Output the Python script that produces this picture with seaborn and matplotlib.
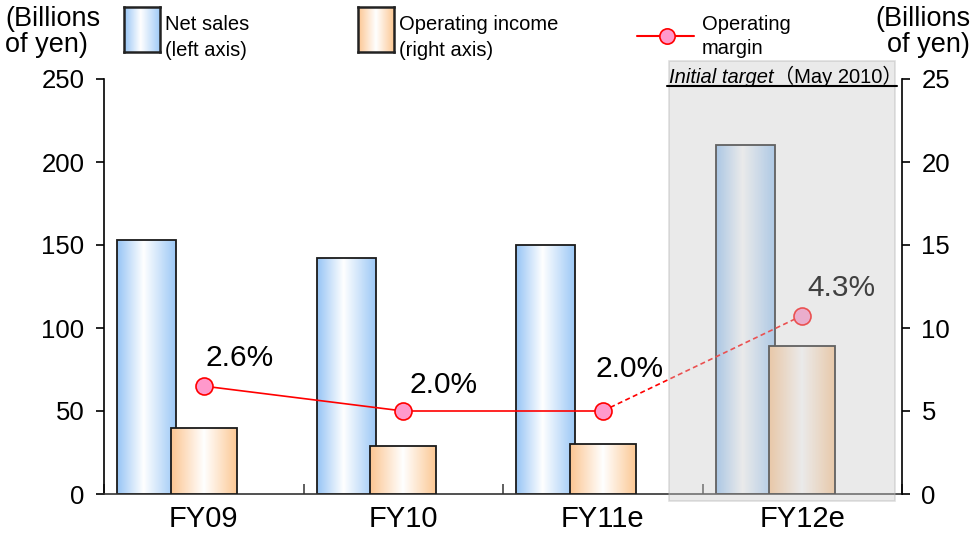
import numpy as np
import matplotlib
matplotlib.use("Agg")
import matplotlib.pyplot as plt
import seaborn as sns
from matplotlib.colors import LinearSegmentedColormap
from matplotlib.patches import Rectangle
from matplotlib.lines import Line2D

# data
categories = ["FY09", "FY10", "FY11e", "FY12e"]
net_sales = [153, 142, 150, 210]          # billions of yen, left axis
operating_income = [4.0, 2.9, 3.0, 8.9]   # billions of yen, right axis
operating_margin = [2.6, 2.0, 2.0, 4.3]   # percent

sns.set_style("ticks")
plt.rcParams["font.family"] = ["Liberation Sans", "Noto Sans CJK JP", "DejaVu Sans"]
plt.rcParams["text.color"] = "black"
plt.rcParams["xtick.color"] = "black"
plt.rcParams["ytick.color"] = "black"
plt.rcParams["xtick.labelcolor"] = "black"
plt.rcParams["ytick.labelcolor"] = "black"

W, H = 972, 543
def fx(px):
    return px / W
def fy(py):
    return 1 - py / H

blue_cmap = LinearSegmentedColormap.from_list(
    "blue_grad", [(0, "#96c4f5"), (0.45, "#ffffff"), (1, "#9cc8f6")])
orange_cmap = LinearSegmentedColormap.from_list(
    "orange_grad", [(0, "#fcc591"), (0.5, "#ffffff"), (1, "#fcc894")])
grad = np.linspace(0, 1, 256)[np.newaxis, :]


def gradient_bars(ax, cmap):
    # replace the flat fill of each bar by a horizontal gradient
    for p in ax.patches:
        x0, y0, w, h = p.get_x(), p.get_y(), p.get_width(), p.get_height()
        im = ax.imshow(grad, extent=[x0, x0 + w, y0, y0 + h], aspect="auto",
                       cmap=cmap, origin="lower", zorder=0.9)
        im.set_clip_path(p)
        p.set_facecolor("none")
        p.set_edgecolor("#1a1a1a")
        p.set_linewidth(1.3)


fig = plt.figure(figsize=(W / 100, H / 100), dpi=100)
ax = fig.add_axes([fx(104), fy(494), fx(902) - fx(104), fy(79) - fy(494)])
ax2 = ax.twinx()
ax3 = ax.twinx()

pos = np.arange(len(categories))

# net sales (left axis)
sns.barplot(x=pos - 0.285, y=net_sales, native_scale=True, width=0.295,
            color="#9cc8f6", ax=ax)
gradient_bars(ax, blue_cmap)

# operating income (right axis)
sns.barplot(x=pos + 0.0, y=operating_income, native_scale=True, width=0.33,
            color="#fcc894", ax=ax2)
gradient_bars(ax2, orange_cmap)

# operating margin (hidden axis, 0-10 %)
sns.lineplot(x=pos[:3], y=operating_margin[:3], color="red", lw=1.2, ax=ax3, zorder=2)
sns.lineplot(x=pos[2:], y=operating_margin[2:], color="red", lw=1.2,
             linestyle=(0, (3, 2)), ax=ax3, zorder=2)
sns.scatterplot(x=pos, y=operating_margin, s=150, color="#ff99cc",
                edgecolor="red", linewidth=1.2, ax=ax3, zorder=3)

label_offsets = [(26, 20), (29, 19), (19, 30), (28, 20)]
label_colors = ["black", "black", "black", "#404040"]
for i, m in enumerate(operating_margin):
    ax3.annotate(f"{m:.1f}%", xy=(pos[i], m), xytext=label_offsets[i],
                 textcoords="offset points", ha="center", va="center",
                 fontsize=21.5, color=label_colors[i], zorder=5)

# axes setup
for a in (ax, ax2, ax3):
    a.set_xlim(-0.5, 3.5)
ax.set_ylim(0, 250)
ax2.set_ylim(0, 25)
ax3.set_ylim(0, 10)
ax3.set_axis_off()

ax.set_yticks(np.arange(0, 251, 50))
ax2.set_yticks(np.arange(0, 26, 5))
ax.set_xticks(np.arange(-0.5, 4, 1))
ax.set_xticklabels([])
ax.set_xticks(pos, minor=True)
ax.set_xticklabels(categories, minor=True)
ax.tick_params(axis="x", which="major", direction="in", length=7, width=1.2, color="#444444")
ax.tick_params(axis="x", which="minor", length=0, pad=8, labelsize=21)
ax.tick_params(axis="y", direction="out", length=6, width=1.2, labelsize=18.5, pad=8)
ax2.tick_params(axis="y", direction="out", length=6, width=1.2, labelsize=18.5, pad=8)
ax.set_xlabel("")
ax.set_ylabel("")
ax2.set_ylabel("")

for name, sp in ax.spines.items():
    sp.set_linewidth(1.2)
    sp.set_color("black")
ax.spines["bottom"].set_color("#333333")
ax.spines["top"].set_visible(False)
ax.spines["right"].set_visible(False)
for name in ("top", "left", "bottom"):
    ax2.spines[name].set_visible(False)
ax2.spines["right"].set_linewidth(1.2)
ax2.spines["right"].set_color("black")

# shaded "initial target" box
box = Rectangle((fx(669), fy(501)), fx(895) - fx(669), fy(61) - fy(501),
                transform=fig.transFigure, facecolor="#cccccc", alpha=0.4,
                edgecolor="#b0b0b0", linewidth=1.2, zorder=4, clip_on=False)
ax3.add_artist(box)
t1 = fig.text(fx(669), fy(83), "Initial target", style="italic", fontsize=14.5,
              va="baseline", ha="left", zorder=6)
ax3.annotate("（May 2010）", xy=(1, 0), xycoords=t1, va="bottom", ha="left",
             fontsize=14.5, zorder=6, annotation_clip=False)
fig.add_artist(Line2D([fx(667), fx(897)], [fy(86), fy(86)], transform=fig.transFigure,
                      color="black", lw=1.5, zorder=6))

# header texts / legend
fig.text(fx(5), fy(6), "(Billions\nof yen)", fontsize=19.5, va="top", ha="left", linespacing=1.0)
fig.text(fx(970), fy(6), "(Billions\nof yen)", fontsize=19.5, va="top", ha="right", linespacing=1.0)

for x0, cmap, line1, line2 in [(124, blue_cmap, "Net sales", "(left axis)"),
                               (358, orange_cmap, "Operating income", "(right axis)")]:
    sw = fig.add_axes([fx(x0), fy(52), fx(x0 + 36) - fx(x0), fy(7) - fy(52)])
    sw.imshow(grad, aspect="auto", cmap=cmap)
    sw.set_xticks([])
    sw.set_yticks([])
    for sp in sw.spines.values():
        sp.set_linewidth(1.8)
        sp.set_color("#222222")
    fig.text(fx(x0 + 41), fy(24), line1, fontsize=14.5, va="center", ha="left")
    fig.text(fx(x0 + 41), fy(51), line2, fontsize=14.5, va="center", ha="left")

fig.add_artist(Line2D([fx(637), fx(694)], [fy(36), fy(36)], transform=fig.transFigure,
                      color="red", lw=1.5))
fig.add_artist(Line2D([fx(667)], [fy(36)], transform=fig.transFigure, marker="o",
                      markersize=11, markerfacecolor="#ff99cc", markeredgecolor="red",
                      markeredgewidth=1.2, linestyle="none"))
fig.text(fx(702), fy(24), "Operating", fontsize=14.5, va="center", ha="left")
fig.text(fx(702), fy(48), "margin", fontsize=14.5, va="center", ha="left")

fig.savefig("out.png", dpi=100)
